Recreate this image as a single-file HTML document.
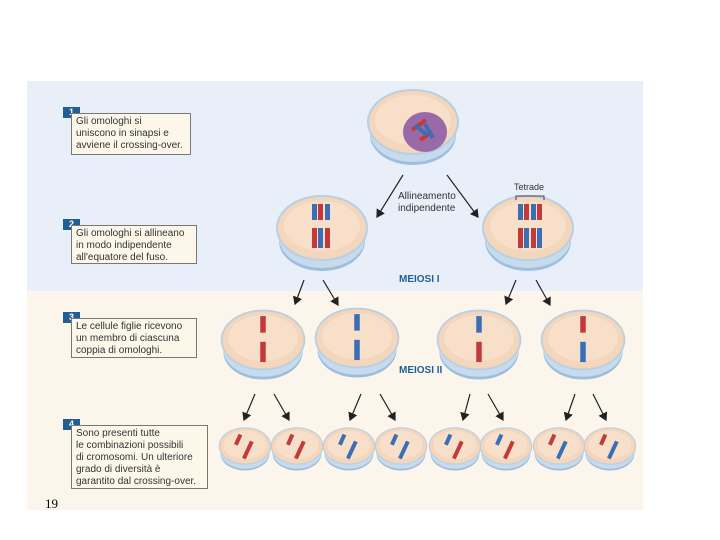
<!DOCTYPE html>
<html><head><meta charset="utf-8"><style>
body{margin:0;width:720px;height:540px;background:#fff;position:relative;overflow:hidden;font-family:"Liberation Sans",sans-serif}
.box{position:absolute;background:#fdf7ea;border:1px solid #777;font-size:10px;line-height:12px;color:#333;padding:2px 4px;box-sizing:border-box}
.tag{position:absolute;background:#1f5f96;color:#fff;font-weight:bold;font-size:9px;line-height:11px;width:17px;text-align:center}
</style></head><body>
<svg width="720" height="540" style="position:absolute;left:0;top:0">
<defs>
<g id="cell">
<ellipse cx="0" cy="13" rx="43" ry="30" fill="#9fbedc"/>
<ellipse cx="0" cy="10" rx="43" ry="30" fill="#c6dbee"/>
<ellipse cx="0" cy="0" rx="45" ry="32" fill="#f3d6bc" stroke="#b9cfe2" stroke-width="2"/>
<ellipse cx="0" cy="-2" rx="38" ry="25" fill="#f7dfc9"/>
</g>
<marker id="a" markerWidth="8" markerHeight="8" refX="6" refY="4" orient="auto"><path d="M0,0 L7,4 L0,8 z" fill="#222"/></marker>
</defs>
<rect x="27" y="81" width="616" height="210" fill="#e8eff8"/>
<rect x="27" y="291" width="616" height="219" fill="#fcf5ec"/>
<!-- top cell -->
<use href="#cell" x="413" y="122"/>
<ellipse cx="425" cy="132" rx="22" ry="20" fill="#9a6aa8"/>
<path d="M412,130 l14,-10 M420,140 l12,-8" stroke="#c23a3a" stroke-width="4"/>
<path d="M415,125 l12,10 M425,124 l8,14" stroke="#3a6fb5" stroke-width="4"/>
<!-- row2 -->
<g transform="translate(322,228)"><use href="#cell"/>
<rect x="-10" y="-24" width="5" height="16" fill="#3a6fb5"/><rect x="-4" y="-24" width="5" height="16" fill="#c23a3a"/><rect x="3" y="-24" width="5" height="16" fill="#3a6fb5"/>
<rect x="-10" y="0" width="5" height="20" fill="#c23a3a"/><rect x="-4" y="0" width="5" height="20" fill="#3a6fb5"/><rect x="3" y="0" width="5" height="20" fill="#c23a3a"/></g>
<g transform="translate(528,228)"><use href="#cell"/>
<rect x="-10" y="-24" width="5" height="16" fill="#3a6fb5"/><rect x="-4" y="-24" width="5" height="16" fill="#c23a3a"/><rect x="3" y="-24" width="5" height="16" fill="#3a6fb5"/><rect x="9" y="-24" width="5" height="16" fill="#c23a3a"/>
<rect x="-10" y="0" width="5" height="20" fill="#c23a3a"/><rect x="-4" y="0" width="5" height="20" fill="#3a6fb5"/><rect x="3" y="0" width="5" height="20" fill="#c23a3a"/><rect x="9" y="0" width="5" height="20" fill="#3a6fb5"/>
<path d="M-12,-28 v-4 h28 v4" stroke="#444" fill="none"/></g>
<!-- row3 -->
<g transform="translate(263,340) scale(0.92)"><use href="#cell"/><rect x="-3" y="-26" width="6" height="18" fill="#c23a3a"/><rect x="-3" y="2" width="6" height="22" fill="#c23a3a"/></g>
<g transform="translate(357,338) scale(0.92)"><use href="#cell"/><rect x="-3" y="-26" width="6" height="18" fill="#3a6fb5"/><rect x="-3" y="2" width="6" height="22" fill="#3a6fb5"/></g>
<g transform="translate(479,340) scale(0.92)"><use href="#cell"/><rect x="-3" y="-26" width="6" height="18" fill="#3a6fb5"/><rect x="-3" y="2" width="6" height="22" fill="#c23a3a"/></g>
<g transform="translate(583,340) scale(0.92)"><use href="#cell"/><rect x="-3" y="-26" width="6" height="18" fill="#c23a3a"/><rect x="-3" y="2" width="6" height="22" fill="#3a6fb5"/></g>
<!-- row4 -->
<g transform="translate(245,446) scale(0.57)"><use href="#cell"/><path d="M-8,-20 l-8,18 M12,-8 l-14,30" stroke="#c23a3a" stroke-width="7"/></g>
<g transform="translate(297,446) scale(0.57)"><use href="#cell"/><path d="M-8,-20 l-8,18 M12,-8 l-14,30" stroke="#c23a3a" stroke-width="7"/></g>
<g transform="translate(349,446) scale(0.57)"><use href="#cell"/><path d="M-8,-20 l-8,18" stroke="#3a6fb5" stroke-width="7"/><path d="M12,-8 l-14,30" stroke="#3a6fb5" stroke-width="7"/></g>
<g transform="translate(401,446) scale(0.57)"><use href="#cell"/><path d="M-8,-20 l-8,18 M12,-8 l-14,30" stroke="#3a6fb5" stroke-width="7"/></g>
<g transform="translate(455,446) scale(0.57)"><use href="#cell"/><path d="M-8,-20 l-8,18" stroke="#3a6fb5" stroke-width="7"/><path d="M12,-8 l-14,30" stroke="#c23a3a" stroke-width="7"/></g>
<g transform="translate(506,446) scale(0.57)"><use href="#cell"/><path d="M-8,-20 l-8,18" stroke="#3a6fb5" stroke-width="7"/><path d="M12,-8 l-14,30" stroke="#c23a3a" stroke-width="7"/></g>
<g transform="translate(559,446) scale(0.57)"><use href="#cell"/><path d="M-8,-20 l-8,18" stroke="#c23a3a" stroke-width="7"/><path d="M12,-8 l-14,30" stroke="#3a6fb5" stroke-width="7"/></g>
<g transform="translate(610,446) scale(0.57)"><use href="#cell"/><path d="M-8,-20 l-8,18" stroke="#c23a3a" stroke-width="7"/><path d="M12,-8 l-14,30" stroke="#3a6fb5" stroke-width="7"/></g>
<!-- arrows -->
<g stroke="#222" stroke-width="1.2" marker-end="url(#a)">
<line x1="403" y1="175" x2="377" y2="217"/><line x1="447" y1="175" x2="478" y2="217"/>
<line x1="304" y1="280" x2="295" y2="304"/><line x1="323" y1="280" x2="338" y2="305"/>
<line x1="516" y1="280" x2="506" y2="304"/><line x1="536" y1="280" x2="550" y2="305"/>
<line x1="255" y1="394" x2="244" y2="420"/><line x1="274" y1="394" x2="289" y2="420"/>
<line x1="361" y1="394" x2="350" y2="420"/><line x1="380" y1="394" x2="395" y2="420"/>
<line x1="470" y1="394" x2="463" y2="420"/><line x1="488" y1="394" x2="503" y2="420"/>
<line x1="575" y1="394" x2="566" y2="420"/><line x1="593" y1="394" x2="606" y2="420"/>
</g>
<text x="398" y="199" font-size="10" fill="#333" font-family="Liberation Sans">Allineamento</text>
<text x="398" y="211" font-size="10" fill="#333" font-family="Liberation Sans">indipendente</text>
<text x="514" y="190" font-size="9" fill="#333" font-family="Liberation Sans">Tetrade</text>
<text x="399" y="282" font-size="10" font-weight="bold" fill="#1f5f96" font-family="Liberation Sans">MEIOSI I</text>
<text x="399" y="373" font-size="10" font-weight="bold" fill="#1f5f96" font-family="Liberation Sans">MEIOSI II</text>
<text x="45" y="508" font-size="13" fill="#000" font-family="Liberation Serif">19</text>
</svg>
<div class="tag" style="left:63px;top:107px">1</div>
<div class="box" style="left:71px;top:113px;width:120px;height:42px">Gli omologhi si<br>uniscono in sinapsi e<br>avviene il crossing-over.</div>
<div class="tag" style="left:63px;top:219px">2</div>
<div class="box" style="left:71px;top:225px;width:126px;height:39px">Gli omologhi si allineano<br>in modo indipendente<br>all'equatore del fuso.</div>
<div class="tag" style="left:63px;top:312px">3</div>
<div class="box" style="left:71px;top:318px;width:126px;height:40px">Le cellule figlie ricevono<br>un membro di ciascuna<br>coppia di omologhi.</div>
<div class="tag" style="left:63px;top:419px">4</div>
<div class="box" style="left:71px;top:425px;width:137px;height:64px">Sono presenti tutte<br>le combinazioni possibili<br>di cromosomi. Un ulteriore<br>grado di diversità è<br>garantito dal crossing-over.</div>
</body></html>
